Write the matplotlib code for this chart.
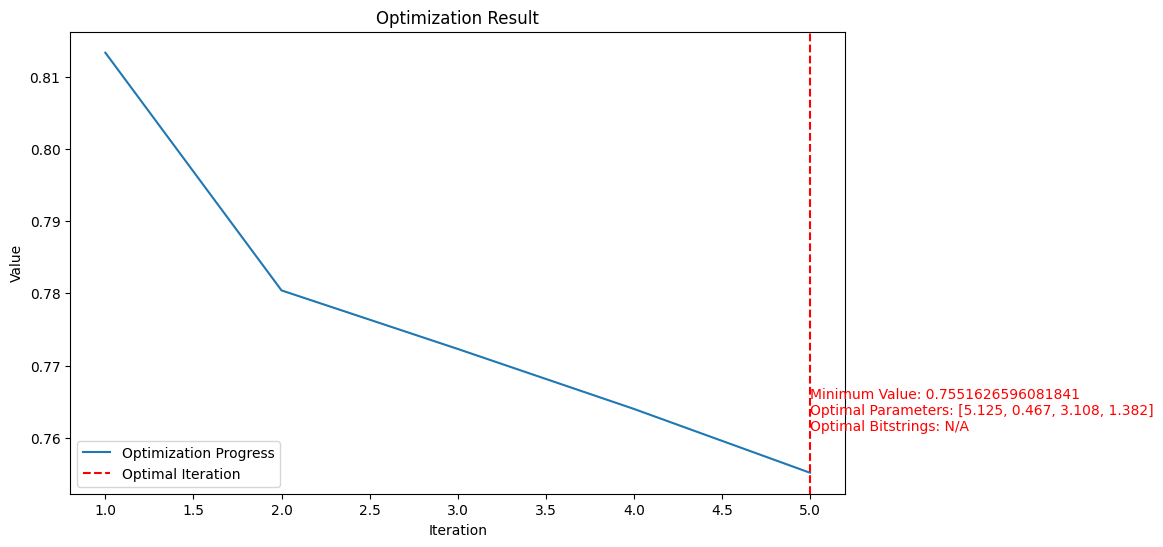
import numpy as np
import matplotlib.pyplot as plt

# Optimization history
iterations = [1, 2, 3, 4, 5]
values = [0.8133, 0.7804, 0.7723, 0.7640, 0.7551626596081841]

min_value = 0.7551626596081841
optimal_params = [5.125, 0.467, 3.108, 1.382]
optimal_iteration = 5

plt.figure(figsize=(10, 6))
plt.plot(iterations, values, label='Optimization Progress')
plt.axvline(x=optimal_iteration, color='r', linestyle='--', label='Optimal Iteration')
info = (f"Minimum Value: {min_value}\n"
        f"Optimal Parameters: [{', '.join(str(p) for p in optimal_params)}]\n"
        f"Optimal Bitstrings: N/A")
# text sits a little above the minimum
text_y = min_value + 0.1 * (max(values) - min_value)
plt.text(optimal_iteration, text_y, info, color='red')
plt.xlabel('Iteration')
plt.ylabel('Value')
plt.title('Optimization Result')
plt.legend()
plt.savefig('out.png', bbox_inches='tight')
